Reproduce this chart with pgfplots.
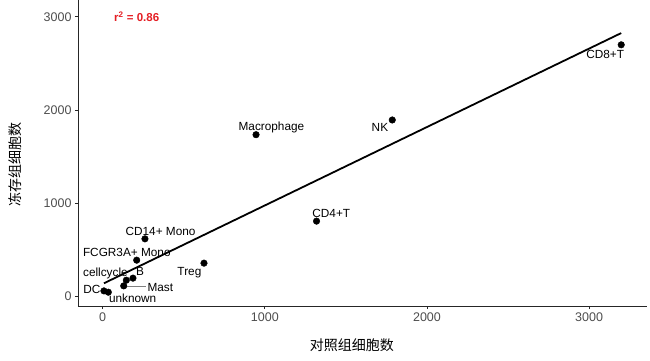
\documentclass[border=0pt]{standalone}
\usepackage{pgfplots}
\pgfplotsset{compat=1.18}
\usepackage{fontspec}
\setmainfont{Liberation Sans}
\newfontfamily\cjk{Noto Sans CJK SC}
\definecolor{rred}{RGB}{228,30,36}
\definecolor{tickgray}{RGB}{77,77,77}
\tikzset{lbl/.style={font=\fontsize{11.8}{13}\selectfont, inner sep=0pt, text height=8.4pt, text depth=0pt, anchor=center}}
\begin{document}
\begin{tikzpicture}
\begin{axis}[name=ax, scale only axis, width=569pt, height=306pt,
  xmin=-152, xmax=3357, ymin=-105, ymax=3180,
  axis lines=left, axis line style={-, line width=0.8pt, black!85},
  xtick={0,1000,2000,3000}, ytick={0,1000,2000,3000},
  tick align=outside, major tick length=3pt,
  tick style={black!85, line width=0.8pt},
  ticklabel style={font=\fontsize{12.5}{14}\selectfont, text=tickgray},
  /pgf/number format/assume math mode=true,
  /pgf/number format/1000 sep={},
  xlabel={对照组细胞数}, ylabel={冻存组细胞数},
  every axis x label/.style={at={(axis description cs:0.4815,-0.1275)}, anchor=center, font=\cjk\fontsize{14}{16}\selectfont},
  every axis y label/.style={at={(axis description cs:-0.1107,0.464)}, rotate=90, anchor=center, font=\cjk\fontsize{14}{16}\selectfont},
  clip=false]
% regression line
\addplot[black, line width=1.8pt] coordinates {(8,139) (3198,2825)};
% segment for Mast
\addplot[gray, line width=0.5pt] coordinates {(135,111) (268,111)};
% points
\addplot[only marks, mark=*, mark size=3.3pt, black] coordinates {
(3198,2699) (1786,1892) (946,1734) (1319,806) (261,616) (210,387)
(625,355) (187,194) (146,172) (130,111) (8,57) (35,43)};
\node[lbl] at (axis cs:3099,2602) {CD8+T};
\node[lbl] at (axis cs:1710,1814) {NK};
\node[lbl] at (axis cs:1041,1820) {Macrophage};
\node[lbl] at (axis cs:1410,889) {CD4+T};
\node[lbl] at (axis cs:357,699) {CD14+ Mono};
\node[lbl] at (axis cs:149,470) {FCGR3A+ Mono};
\node[lbl] at (axis cs:535,269) {Treg};
\node[lbl] at (axis cs:17,262) {cellcycle};
\node[lbl] at (axis cs:230,272) {B};
\node[lbl] at (axis cs:356,100) {Mast};
\node[lbl] at (axis cs:-66,75) {DC};
\node[lbl] at (axis cs:185,-25) {unknown};
\node[anchor=center, inner sep=0pt, text=rred, font=\bfseries\fontsize{11.5}{13}\selectfont] at (axis cs:210,3000) {r\textsuperscript{2} = 0.86};
\end{axis}
\pgfresetboundingbox
\path ([shift={(-78pt,-55pt)}]ax.south west) rectangle ++(650pt,361pt);
\end{tikzpicture}
\end{document}
